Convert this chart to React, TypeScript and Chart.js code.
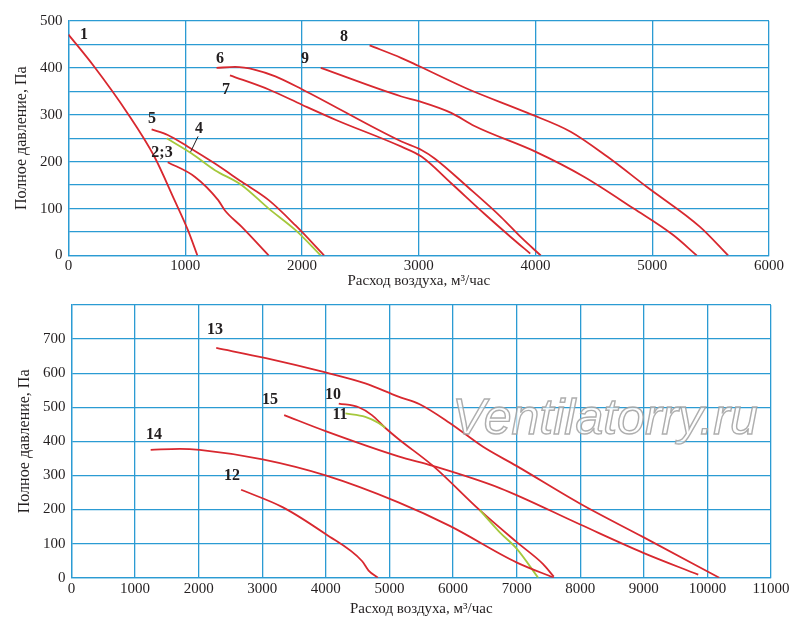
import React, { useEffect, useRef } from "react";
import { Chart, registerables } from "chart.js";
Chart.register(...registerables);

// ---- Top chart data ----
const c1x = [0, 216, 504, 735, 908, 1023, 1104];
const c1y = [471, 404, 304, 211, 118, 54, 0];
const c5x = [712, 850, 1023, 1254, 1484, 1715, 1945, 2190];
const c5y = [269, 257, 232, 196, 157, 118, 64, 0];
const c4x = [841, 1052, 1254, 1484, 1715, 1945, 2161];
const c4y = [250, 218, 182, 150, 100, 54, 0];
const c23x = [850, 1081, 1282, 1340, 1484, 1715];
const c23y = [199, 168, 118, 96, 61, 0];
const c6x = [1268, 1427, 1599, 1772, 2003, 2852, 3023, 3136, 3420, 3705, 3875, 4045];
const c6y = [400, 402, 396, 382, 354, 243, 225, 207, 146, 82, 39, 0];
const c7x = [1383, 1715, 2003, 2291, 2852, 3023, 3278, 3562, 3790, 3955];
const c7y = [384, 354, 321, 289, 232, 211, 154, 89, 39, 4];
const c9x = [2161, 2852, 3000, 3278, 3477, 4003, 4415, 4841, 5182, 5381];
const c9y = [400, 339, 329, 304, 276, 221, 168, 100, 43, 0];
const c8x = [2579, 2852, 3000, 3420, 3932, 4301, 4614, 4955, 5409, 5650];
const c8y = [448, 421, 404, 355, 304, 264, 211, 146, 61, 0];
const topLabels = ["1", "8", "6", "9", "7", "5", "4", "2;3"];
const topLabelX = [133, 2359, 1298, 2026, 1349, 716, 1118, 801];
const topLabelY = [471, 467, 420, 420, 353, 291, 270, 219];

// ---- Bottom chart data ----
const c13x = [2276, 3057, 3995, 4620, 5141, 5475, 5948, 6472, 6997, 8000, 8992, 10187];
const c13y = [674, 644, 602, 570, 531, 509, 454, 384, 328, 217, 119, 0];
const c10x = [4203, 4516, 4724, 4932, 5141, 5685, 6420, 6997, 7416, 7584];
const c10y = [511, 500, 477, 440, 407, 328, 198, 105, 40, 3];
const c11ax = [4307, 4620, 4828, 4932];
const c11ay = [482, 472, 454, 440];
const c11bx = [6420, 6735, 6997, 7338];
const c11by = [198, 133, 86, 0];
const c15x = [3344, 3995, 5141, 5685, 6735, 8000, 8992, 9856];
const c15y = [477, 430, 356, 328, 263, 156, 73, 9];
const c14x = [1245, 1703, 2016, 3005, 3995, 5141, 5948, 6997, 7584];
const c14y = [375, 378, 375, 347, 300, 221, 152, 45, 0];
const c12x = [2667, 3318, 3995, 4568, 4672, 4818];
const c12y = [258, 207, 128, 49, 21, 0];
const botLabels = ["13", "10", "11", "15", "14", "12"];
const botLabelX = [2256, 4112, 4222, 3121, 1297, 2524];
const botLabelY = [727, 537, 479, 521, 420, 298];

const RED = "#d8282f";
const GREEN = "#a5c83c";
const GRID = "#2b9bd3";
const TXT = "#231f20";
const FONT = "'Liberation Serif', 'DejaVu Serif', serif";

const pts = (xs: number[], ys: number[]) => xs.map((x, i) => ({ x, y: ys[i] }));
const ds = (xs: number[], ys: number[], color: string) => ({
  data: pts(xs, ys),
  borderColor: color,
  borderWidth: 1.8,
  pointRadius: 0,
  cubicInterpolationMode: "monotone",
  fill: false,
});

const labelPlugin = (labels: string[], lx: number[], ly: number[], extra?: (c: any) => void) => ({
  id: "lbls",
  afterDatasetsDraw(chart: any) {
    const { ctx, scales } = chart;
    ctx.save();
    if (extra) extra(chart);
    ctx.fillStyle = TXT;
    ctx.font = `bold 16px ${FONT}`;
    ctx.textAlign = "center";
    ctx.textBaseline = "middle";
    labels.forEach((t, i) => ctx.fillText(t, scales.x.getPixelForValue(lx[i]), scales.y.getPixelForValue(ly[i])));
    ctx.restore();
  },
});

function makeOptions(xMax: number, xStep: number, yMax: number, yStep: number, labelEvery: number, hideTop: boolean, pad: any, xH: number) {
  return {
    animation: false,
    responsive: false,
    layout: { padding: pad },
    plugins: { legend: { display: false }, tooltip: { enabled: false } },
    scales: {
      x: {
        type: "linear",
        min: 0,
        max: xMax,
        ticks: { stepSize: xStep, color: TXT, font: { family: FONT, size: 15 }, padding: 2, maxRotation: 0, callback: (v: number) => String(v) },
        grid: { color: GRID, lineWidth: 1.3, drawTicks: false },
        border: { color: GRID, width: 1.3 },
        title: { display: true, text: "Расход воздуха, м³/час", color: TXT, font: { family: FONT, size: 15 }, padding: 0 },
        afterFit: (s: any) => { s.height = xH; },
      },
      y: {
        min: 0,
        max: yMax,
        ticks: {
          stepSize: yStep,
          color: TXT,
          font: { family: FONT, size: 15 },
          padding: 6,
          callback: (v: number) => (v % labelEvery === 0 && !(hideTop && v === yMax) ? String(v) : ""),
        },
        grid: { color: GRID, lineWidth: 1.3, drawTicks: false },
        border: { color: GRID, width: 1.3 },
        title: { display: true, text: "Полное давление, Па", color: TXT, font: { family: FONT, size: 16 }, padding: 0 },
        afterFit: (s: any) => { s.width = 56.5; },
      },
    },
  };
}

export default function App() {
  const r1 = useRef<HTMLCanvasElement>(null);
  const r2 = useRef<HTMLCanvasElement>(null);
  useEffect(() => {
    document.body.style.margin = "0";
    const top = new Chart(r1.current!, {
      type: "line",
      data: {
        datasets: [
          ds(c1x, c1y, RED), ds(c5x, c5y, RED), ds(c4x, c4y, GREEN), ds(c23x, c23y, RED),
          ds(c6x, c6y, RED), ds(c7x, c7y, RED), ds(c9x, c9y, RED), ds(c8x, c8y, RED),
        ],
      },
      options: makeOptions(6000, 1000, 500, 50, 100, false, { top: 21, right: 31, left: 12, bottom: 0 }, 34.5) as any,
      plugins: [labelPlugin(topLabels, topLabelX, topLabelY, (chart: any) => {
        const { ctx, scales } = chart;
        ctx.strokeStyle = TXT;
        ctx.lineWidth = 1;
        ctx.beginPath();
        ctx.moveTo(scales.x.getPixelForValue(1110), scales.y.getPixelForValue(254));
        ctx.lineTo(scales.x.getPixelForValue(1046), scales.y.getPixelForValue(221));
        ctx.stroke();
      })],
    });
    const bot = new Chart(r2.current!, {
      type: "line",
      data: {
        datasets: [
          ds(c13x, c13y, RED), ds(c15x, c15y, RED), ds(c14x, c14y, RED), ds(c12x, c12y, RED),
          ds(c11ax, c11ay, GREEN), ds(c11bx, c11by, GREEN), ds(c10x, c10y, RED),
        ],
      },
      options: makeOptions(11000, 1000, 800, 100, 100, true, { top: 10.7, right: 29, left: 15, bottom: 24 }, 40.3) as any,
      plugins: [labelPlugin(botLabels, botLabelX, botLabelY, (chart: any) => {
        const { ctx } = chart;
        ctx.save();
        ctx.font = `italic 50px 'Liberation Sans', Arial, sans-serif`;
        ctx.textAlign = "center";
        ctx.textBaseline = "middle";
        ctx.fillStyle = "rgba(255,255,255,0.6)";
        ctx.fillText("Ventilatorry.ru", 605, 130);
        ctx.strokeStyle = "rgba(160,160,160,0.85)";
        ctx.lineWidth = 1.4;
        ctx.strokeText("Ventilatorry.ru", 605, 130);
        ctx.restore();
      })],
    });
    return () => { top.destroy(); bot.destroy(); };
  }, []);
  return (
    <div style={{ width: 800, height: 642, background: "#fff", position: "relative" }}>
      <canvas ref={r1} width={800} height={290} style={{ position: "absolute", left: 0, top: 0 }} />
      <canvas ref={r2} width={800} height={352} style={{ position: "absolute", left: 0, top: 290 }} />
    </div>
  );
}
